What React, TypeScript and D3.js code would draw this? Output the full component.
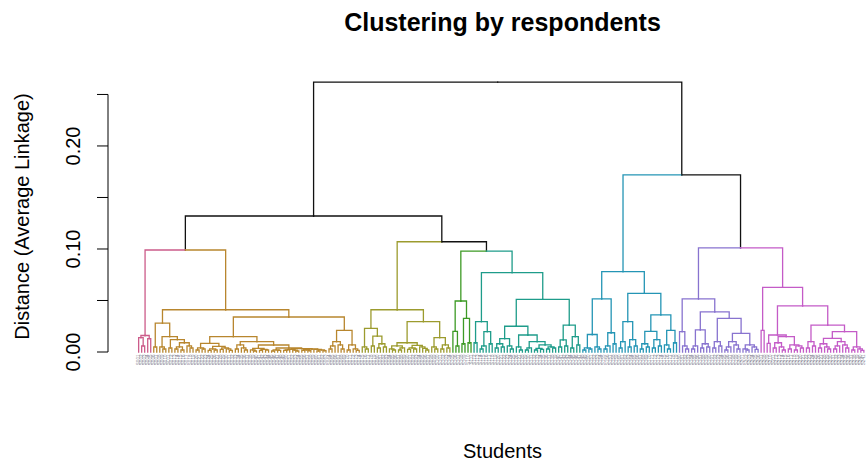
import React, { useMemo } from "react";
import * as d3 from "d3";

const W = 866;
const H = 467;

// Subtrees written as "(height left right)", heights in thousandths, "." is a respondent
const PINK = "(16 (14 . (6 . .)) (13 . .))";

const GOLD_LEFT = "(28 (5 . .) (15 (5 . (3 . .)) (12 (4 . .) (9 (5 (3 . .) (2 . .)) (6 . (4 . .))))))";
const GOLD_A = "(8.4 (4 (2 . .) (3 . .)) (5.5 (3 (1.5 . .) (2 . .)) (4 (2.5 . .) (3 . (1.5 . .)))))";
const GOLD_B1 = "(7 (3 . .) (4 . (2 . .)))";
const GOLD_B2A = "(3.5 (2 . (1 . .)) (2.5 (1.5 . .) (2 . .)))";
const GOLD_B2B1 = "(2 (1 . .) (1.5 . .))";
const GOLD_B2B2 = "(3.2 (2.6 (2 (1.5 . .) .) (1.8 . (1 . .))) (2.9 (2.2 (1.6 . .) (1.4 . .)) (2.5 . (2 (1 . .) (1.3 . .)))))";
const GOLD_R2 = "(21 (10 (6 (3 . .) .) (7 . (3 . .))) (7 (2 . .) (3 . (1.5 . .))))";
const GOLD = `(41 ${GOLD_LEFT} (34 (15 ${GOLD_A} (10 ${GOLD_B1} (6.8 ${GOLD_B2A} (3.9 ${GOLD_B2B1} ${GOLD_B2B2})))) ${GOLD_R2}))`;

const OLIVE_LEFT = "(23 (5 . (3 . .)) (15.5 (6 . .) (8 (4 . .) (5 . .))))";
const OLIVE_RL = "(9 (6 (3 . (2 . .)) (4 (2 . .) .)) (6.5 (4 (2.5 . .) (3 . .)) (5 . (3.5 . (2 . .)))))";
const OLIVE_RR = "(14 (5 . (3 . .)) (7 (3 . .) (4 . .)))";
const OLIVE = `(41 ${OLIVE_LEFT} (29.4 ${OLIVE_RL} ${OLIVE_RR}))`;

const GREEN = "(49.5 (20 . (6 . .)) (32.7 (8 . .) (9 . .)))";

const TEAL_L = "(29.4 (9 . .) (19.7 (6 (3 . .) .) (8 . .)))";
const TEAL_R1A = "(13 (8 (4 . .) (5 . .)) (6 . (3 . .)))";
const TEAL_R1B = "(16.5 (5 . (2 . .)) (10 (4 (2 . .) .) (7 (3.5 (2 . .) (2.5 . .)) (5 (3 . .) (4 . .)))))";
const TEAL_R2 = "(26 (11.7 (5 . .) (6 . .)) (15 (4 . .) (7 . .)))";
const TEAL = `(77 ${TEAL_L} (51 (25 ${TEAL_R1A} ${TEAL_R1B}) ${TEAL_R2}))`;

const BLUE_L = "(51.5 (17 (4 (2 . .) (3 . .)) (5 . (3 . .))) (18.7 (6 (3 . .) .) (8 . .)))";
const BLUE_RL = "(29.4 (10 (4 . .) .) (12 (5 . .) (6 . .)))";
const BLUE_RR = "(36 (20 (8 (3 . .) (5 . .)) (12 (4 . .) (6 . .))) (21 (7 . (3 . .)) (9 . .)))";
const BLUE = `(78 ${BLUE_L} (57 ${BLUE_RL} ${BLUE_RR}))`;

const PURPLE_L = "(19.7 . (6 . (3 . .)))";
const PURPLE_RL = "(21.4 (6 (3 . .) .) (8 (4 . .) (5 . .)))";
const PURPLE_RR = "(32.7 (10 (4 . .) (6 . .)) (18 (10 (5 (2 . .) .) (7 . (3 . .))) (7 (3 . (2 . .)) (5 . (2.5 . .)))))";
const PURPLE = `(51.5 ${PURPLE_L} (39 ${PURPLE_RL} ${PURPLE_RR}))`;

const MAGENTA_RL = "(16.5 (8.4 . .) (15 (9 (4 . .) (5 . (2 . .))) (7 (3 . .) (6 (2 . .) (4 . .)))))";
const MAGENTA_RR = "(26 (10 (4 . .) (6 . .)) (19.7 (13.3 (8 (4 . .) (5 . (3 . .))) (10 (6 (3 . .) .) (7 . (4 . .)))) (5 (2 . .) (3 . (1.5 . .)))))";
const MAGENTA = `(62.8 (21 . .) (44.7 ${MAGENTA_RL} ${MAGENTA_RR}))`;

const CLUSTER_TREES = [PINK, GOLD, OLIVE, GREEN, TEAL, BLUE, PURPLE, MAGENTA];
const CLUSTER_COLORS = ["#CC5C8A", "#B8862E", "#9C9B2E", "#3D9A25", "#1E9C8A", "#2495B5", "#8873CF", "#C45BC7"];

// Merges above the eight clusters; "#k" stands for CLUSTER_TREES[k]
const TOP_TREE = "(262 (132 (99 #0 #1) (107 #2 (98 #3 #4))) (172 #5 (101 #6 #7)))";

const Y_TICKS = [0, 0.05, 0.1, 0.15, 0.2, 0.25];
const Y_TICK_LABELS = ["0.00", "", "0.10", "", "0.20", ""];

const TITLE = "Clustering by respondents";
const X_LABEL = "Students";
const Y_LABEL = "Distance (Average Linkage)";

interface DNode {
  height: number;
  children: DNode[];
  cluster: number | null;
  x: number;
}

function parseTree(src: string, cluster: number | null, subtrees: DNode[]): DNode {
  const tokens = src.match(/\(|\)|[^\s()]+/g) || [];
  let i = 0;
  const read = (): DNode => {
    const t = tokens[i++];
    if (t === "(") {
      const height = +tokens[i++] / 1000;
      const children: DNode[] = [];
      while (tokens[i] !== ")") children.push(read());
      i++;
      return { height, children, cluster, x: 0 };
    }
    if (t[0] === "#") return subtrees[+t.slice(1)];
    return { height: 0, children: [], cluster, x: 0 };
  };
  return read();
}

const FONT = "'Liberation Sans', Arial, Helvetica, sans-serif";

export default function App() {
  const { root, leaves } = useMemo(() => {
    const subtrees = CLUSTER_TREES.map((s, k) => parseTree(s, k, []));
    const root = parseTree(TOP_TREE, null, subtrees);
    const leaves: DNode[] = [];
    const place = (n: DNode) => {
      if (!n.children.length) {
        leaves.push(n);
        n.x = leaves.length;
        return;
      }
      n.children.forEach(place);
      n.x = (n.children[0].x + n.children[n.children.length - 1].x) / 2;
    };
    place(root);
    return { root, leaves };
  }, []);

  const n = leaves.length;
  const top = root.height;
  // plot region with R-style 4% padding on both axes
  const x = d3
    .scaleLinear()
    .domain([0.5 - 0.04 * n, n + 0.5 + 0.04 * n])
    .range([108, 894.5]);
  const y = d3
    .scaleLinear()
    .domain([-0.04 * top, top * 1.04])
    .range([362.8, 71.3]);

  const edges: { d: string; color: string }[] = [];
  const walk = (p: DNode) => {
    p.children.forEach((c) => {
      edges.push({
        d: `M${x(p.x)},${y(p.height)}H${x(c.x)}V${y(c.height)}`,
        color: c.cluster === null ? "#111" : CLUSTER_COLORS[c.cluster],
      });
      walk(c);
    });
  };
  walk(root);

  const axisX = 108;

  return (
    <svg
      width={W}
      height={H}
      style={{ position: "absolute", left: 0, top: 0, background: "#fff" }}
      fontFamily={FONT}
    >
      <rect width={W} height={H} fill="#fff" />
      <text x={502.5} y={31} textAnchor="middle" fontSize={25} fontWeight="bold" fill="#000">
        {TITLE}
      </text>

      {/* leaf labels */}
      <g fill="#8a8a98" fontSize={4.6}>
        {leaves.map((l, i) => (
          <text
            key={i}
            transform={`translate(${x(l.x) + 1.5},${354.5}) rotate(-90)`}
            textAnchor="end"
          >
            {`S${String(i + 1).padStart(3, "0")}`}
          </text>
        ))}
      </g>

      {/* branches */}
      <g fill="none" strokeWidth={1.3} strokeLinecap="square">
        {edges.map((e, i) => (
          <path key={i} d={e.d} stroke={e.color} />
        ))}
      </g>

      {/* y axis */}
      <g stroke="#000" strokeWidth={1}>
        <line x1={axisX} x2={axisX} y1={y(Y_TICKS[0])} y2={y(Y_TICKS[Y_TICKS.length - 1])} />
        {Y_TICKS.map((t) => (
          <line key={t} x1={axisX - 11} x2={axisX} y1={y(t)} y2={y(t)} />
        ))}
      </g>
      {Y_TICKS.map((t, i) =>
        Y_TICK_LABELS[i] ? (
          <text
            key={t}
            transform={`translate(80,${y(t)}) rotate(-90)`}
            textAnchor="middle"
            fontSize={20}
            fill="#000"
          >
            {Y_TICK_LABELS[i]}
          </text>
        ) : null
      )}
      <text transform={`translate(29,216.5) rotate(-90)`} textAnchor="middle" fontSize={20} fill="#000">
        {Y_LABEL}
      </text>
      <text x={502.5} y={458} textAnchor="middle" fontSize={20} fill="#000">
        {X_LABEL}
      </text>
    </svg>
  );
}
